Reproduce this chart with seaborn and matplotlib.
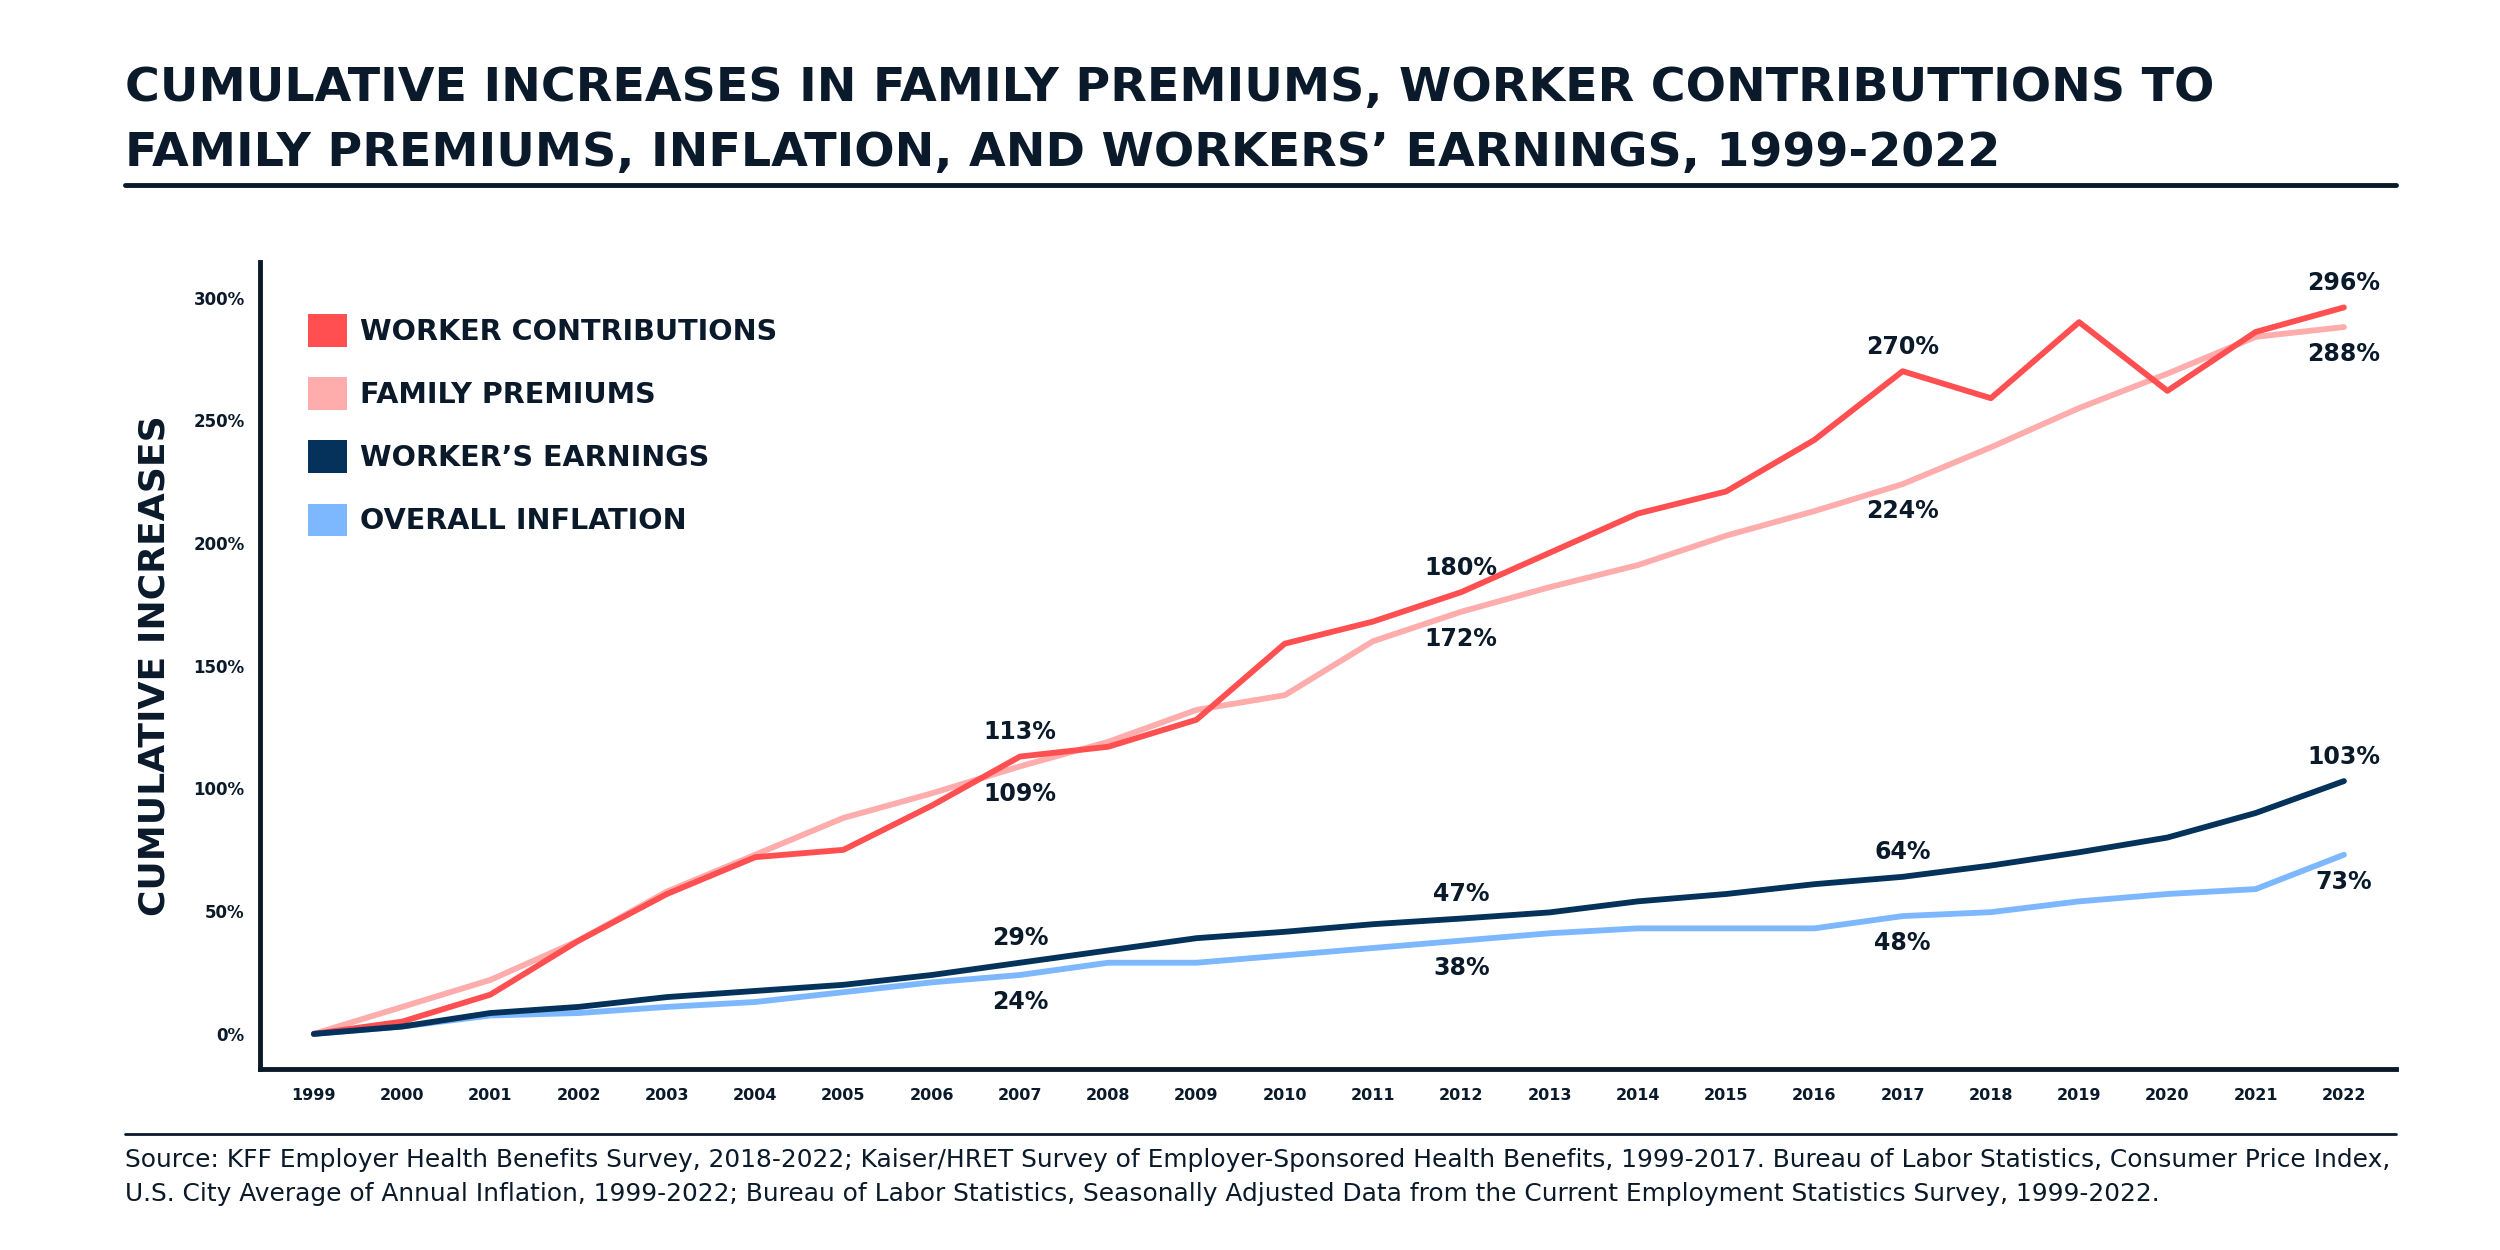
import pandas as pd
import matplotlib.pyplot as plt
import seaborn as sns
from matplotlib.patches import Patch
from matplotlib.lines import Line2D

# === data ===
years = list(range(1999, 2023))
worker_contrib = [0, 5, 16, 38, 57, 72, 75, 93, 113, 117, 128, 159, 168, 180,
                  196, 212, 221, 242, 270, 259, 290, 262, 286, 296]
family_prem = [0, 11, 22, 38, 58, 73, 88, 98, 109, 119, 132, 138, 160, 172,
               182, 191, 203, 213, 224, 239, 255, 269, 284, 288]
earnings = [0, 3, 8.5, 11, 15, 17.5, 20, 24, 29, 34, 39, 41.6, 44.7, 47,
            49.5, 54, 57, 61, 64, 68.6, 74, 80, 90, 103]
inflation = [0, 3, 7.5, 8.5, 11, 13, 17, 21, 24, 29, 29, 32, 35, 38,
             41, 43, 43, 43, 48, 49.6, 54, 57, 59, 73]
series = ["WORKER CONTRIBUTIONS", "FAMILY PREMIUMS", "WORKER\u2019S EARNINGS", "OVERALL INFLATION"]
colors = ["#FF4F50", "#FFACAC", "#04325A", "#7DB8FF"]
label_years = [2007, 2012, 2017, 2022]

ink = "#0B1A2A"

df = pd.DataFrame({
    "year": years * 4,
    "value": worker_contrib + family_prem + earnings + inflation,
    "series": sum([[s] * len(years) for s in series], []),
})

# === figure ===
sns.set_style("white")
plt.rcParams['font.family'] = ['DejaVu Sans']
fig = plt.figure(figsize=(25, 12.5), dpi=100)
ax = fig.add_axes([260 / 2500, 1 - 1069 / 1250, (2396 - 260) / 2500, (1069 - 262) / 1250])

# draw pink/light-blue under the darker lines
order = [1, 3, 0, 2]
for i in order:
    sub = df[df["series"] == series[i]]
    sns.lineplot(data=sub, x="year", y="value", color=colors[i], lw=4.2, ax=ax,
                 legend=False)

# value labels (above for the darker line, below for the lighter one)
vals = [worker_contrib, family_prem, earnings, inflation]
for i, v in enumerate(vals):
    above = i in (0, 2)
    for yr in label_years:
        y = v[years.index(yr)]
        txt = f"{round(y)}%"
        ax.annotate(txt, (yr, y), xytext=(0, 9 if above else -11), textcoords="offset points",
                    ha="center", va="bottom" if above else "top",
                    fontsize=17, color=ink, fontweight="semibold")

ax.set_xlim(1998.39, 2022.59)
ax.set_ylim(-14.3, 314.5)
ax.set_xticks(years)
ax.set_xticklabels([str(y) for y in years], fontsize=11.5, fontweight="bold", color=ink)
ax.set_yticks([0, 50, 100, 150, 200, 250, 300])
ax.set_yticklabels([f"{t}%" for t in [0, 50, 100, 150, 200, 250, 300]],
                   fontsize=12, fontweight="bold", color=ink)
ax.tick_params(axis="both", length=7, width=2.2, color=ink, direction="out")
ax.tick_params(axis="y", pad=4)
ax.tick_params(axis="x", pad=7)
ax.set_xlabel("")
ax.set_ylabel("CUMULATIVE INCREASES", fontsize=26, fontweight="heavy", color=ink, labelpad=16)
for side in ["top", "right"]:
    ax.spines[side].set_visible(False)
for side in ["left", "bottom"]:
    ax.spines[side].set_linewidth(3.5)
    ax.spines[side].set_color(ink)

# legend as squares
handles = [Patch(facecolor=c, edgecolor="none") for c in colors]
ax.legend(handles, series, loc="upper left", bbox_to_anchor=(0.0225, 0.935), frameon=False,
          handlelength=1.35, handleheight=1.35, labelspacing=1.08,
          handletextpad=0.45, borderpad=0, borderaxespad=0, labelcolor=ink,
          prop={"weight": "semibold", "size": 20.6})

# === title, rules, source ===
fig.text(125 / 2500, 1 - 101 / 1250,
         "CUMULATIVE INCREASES IN FAMILY PREMIUMS, WORKER CONTRIBUTTIONS TO",
         fontsize=34.2, fontweight="heavy", color=ink, va="baseline")
fig.text(125 / 2500, 1 - 166 / 1250,
         "FAMILY PREMIUMS, INFLATION, AND WORKERS\u2019 EARNINGS, 1999-2022",
         fontsize=34.2, fontweight="heavy", color=ink, va="baseline")
fig.add_artist(Line2D([125 / 2500, 2396 / 2500], [1 - 185 / 1250] * 2, color=ink, lw=3.5))
fig.add_artist(Line2D([125 / 2500, 2396 / 2500], [1 - 1134 / 1250] * 2, color=ink, lw=2))
fig.text(125 / 2500, 1 - 1167 / 1250,
         "Source: KFF Employer Health Benefits Survey, 2018-2022; Kaiser/HRET Survey of Employer-Sponsored "
         "Health Benefits, 1999-2017. Bureau of Labor Statistics, Consumer Price Index,",
         fontsize=17.9, color=ink, va="baseline")
fig.text(125 / 2500, 1 - 1201 / 1250,
         "U.S. City Average of Annual Inflation, 1999-2022; Bureau of Labor Statistics, Seasonally Adjusted "
         "Data from the Current Employment Statistics Survey, 1999-2022.",
         fontsize=17.9, color=ink, va="baseline")

fig.savefig("out.png", dpi=100, facecolor="white")
